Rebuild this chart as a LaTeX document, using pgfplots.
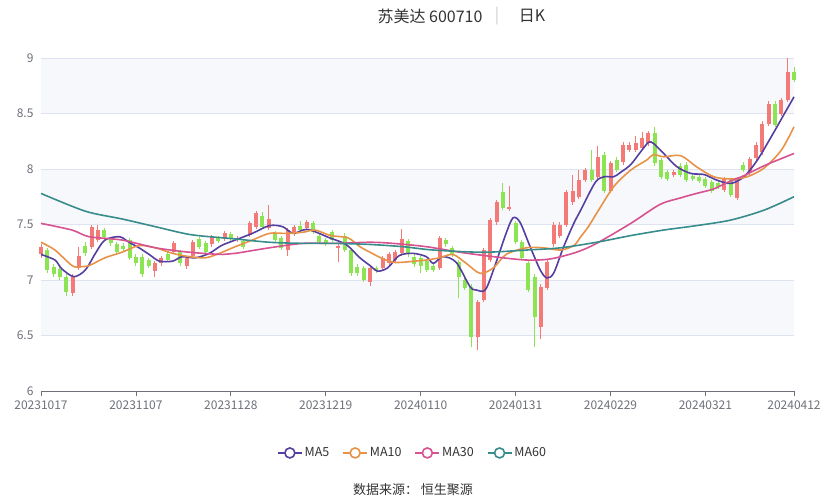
\documentclass[border=0pt]{standalone}
\usepackage{fontspec}
\setmainfont{Noto Sans CJK SC}
\usepackage{pgfplots}
\pgfplotsset{compat=1.18}
\usepackage{pgfplotstable}
\usetikzlibrary{calc}

\definecolor{cred}{RGB}{243,122,118}
\definecolor{cgreen}{RGB}{140,228,82}
\definecolor{ma5}{RGB}{84,62,160}
\definecolor{ma10}{RGB}{232,146,72}
\definecolor{ma30}{RGB}{214,82,145}
\definecolor{ma60}{RGB}{56,140,140}
\definecolor{axisgray}{RGB}{110,112,121}
\definecolor{gridc}{RGB}{224,230,241}
\definecolor{bandc}{RGB}{210,219,238}
\definecolor{titlec}{RGB}{51,51,51}

% up (red) candles: index open high low close
\pgfplotstableread{
i o h l c
0 7.23 7.32 7.20 7.30
5 6.88 7.05 6.86 7.03
6 7.11 7.30 7.09 7.22
8 7.30 7.50 7.28 7.48
9 7.36 7.50 7.34 7.45
18 7.08 7.17 7.03 7.15
19 7.15 7.22 7.13 7.20
21 7.25 7.35 7.23 7.33
23 7.13 7.22 7.10 7.20
24 7.22 7.36 7.20 7.34
27 7.32 7.41 7.30 7.39
29 7.37 7.44 7.35 7.42
31 7.36 7.40 7.34 7.38
33 7.41 7.53 7.39 7.51
34 7.48 7.62 7.46 7.60
36 7.47 7.68 7.45 7.55
39 7.27 7.47 7.22 7.45
40 7.42 7.50 7.40 7.48
42 7.47 7.54 7.45 7.52
47 7.29 7.33 7.16 7.31
52 6.98 7.13 6.95 7.11
54 7.11 7.22 7.09 7.20
55 7.15 7.25 7.13 7.23
56 7.18 7.27 7.16 7.25
57 7.24 7.46 7.22 7.37
63 7.11 7.40 7.09 7.38
69 6.49 6.82 6.37 6.80
70 6.82 7.29 6.80 7.27
71 7.18 7.56 7.16 7.54
72 7.52 7.72 7.50 7.70
74 7.64 7.85 7.62 7.66
79 6.58 6.96 6.47 6.94
80 6.93 7.18 6.91 7.16
81 7.32 7.52 7.30 7.50
82 7.40 7.52 7.38 7.50
83 7.50 7.81 7.48 7.79
84 7.70 7.95 7.68 7.80
85 7.75 7.99 7.73 7.90
86 7.90 8.01 7.88 7.99
88 7.93 8.21 7.91 8.11
90 7.80 8.07 7.78 8.05
92 8.06 8.24 8.04 8.22
93 8.17 8.24 8.15 8.22
94 8.17 8.30 8.15 8.23
95 8.19 8.33 8.17 8.28
96 8.23 8.34 8.21 8.32
100 7.95 7.99 7.93 7.97
108 7.81 7.93 7.79 7.91
110 7.74 7.93 7.72 7.91
112 7.96 8.11 7.94 8.09
113 8.10 8.24 8.08 8.22
114 8.15 8.43 8.13 8.41
115 8.41 8.61 8.39 8.59
117 8.50 8.64 8.48 8.62
118 8.62 9.00 8.60 8.87
}\uptab

% down (green) candles
\pgfplotstableread{
i o h l c
1 7.27 7.29 7.06 7.09
2 7.12 7.14 7.03 7.05
3 7.10 7.12 7.00 7.03
4 7.03 7.05 6.86 6.89
7 7.31 7.34 7.22 7.24
10 7.45 7.47 7.37 7.39
11 7.37 7.39 7.31 7.33
12 7.32 7.34 7.23 7.25
13 7.31 7.33 7.26 7.28
14 7.36 7.38 7.18 7.20
15 7.21 7.23 7.13 7.15
16 7.21 7.23 7.03 7.05
17 7.18 7.20 7.11 7.13
20 7.23 7.25 7.16 7.18
22 7.25 7.27 7.13 7.15
25 7.37 7.39 7.28 7.30
26 7.33 7.35 7.23 7.25
28 7.38 7.40 7.33 7.35
30 7.41 7.43 7.35 7.37
32 7.35 7.37 7.28 7.30
35 7.58 7.61 7.46 7.48
37 7.42 7.44 7.34 7.36
38 7.38 7.40 7.27 7.29
41 7.49 7.53 7.43 7.45
43 7.51 7.53 7.41 7.43
44 7.40 7.42 7.32 7.34
45 7.36 7.38 7.31 7.33
46 7.43 7.45 7.34 7.36
48 7.40 7.42 7.25 7.27
49 7.27 7.29 7.04 7.06
50 7.12 7.14 7.04 7.06
51 7.11 7.13 6.98 7.00
53 7.11 7.13 7.06 7.08
58 7.35 7.37 7.21 7.23
59 7.21 7.23 7.12 7.14
60 7.20 7.22 7.06 7.13
61 7.17 7.19 7.07 7.09
62 7.13 7.15 7.07 7.09
64 7.36 7.38 7.30 7.32
65 7.29 7.31 7.21 7.23
66 7.16 7.18 6.84 7.03
67 7.00 7.02 6.91 6.93
68 6.94 6.96 6.40 6.49
73 7.79 7.87 7.63 7.65
75 7.51 7.53 7.32 7.34
76 7.34 7.36 7.18 7.20
77 7.15 7.17 6.89 6.91
78 7.03 7.05 6.40 6.67
87 7.99 8.17 7.88 7.90
89 8.13 8.15 7.78 7.80
91 8.08 8.11 7.97 7.99
97 8.32 8.38 8.03 8.05
98 8.08 8.10 7.91 7.93
99 7.97 7.99 7.89 7.91
101 8.03 8.05 7.93 7.95
102 8.04 8.06 7.88 7.90
103 7.94 7.96 7.89 7.91
104 7.93 7.95 7.87 7.89
105 7.91 7.93 7.83 7.85
106 7.88 7.90 7.78 7.80
107 7.87 7.89 7.82 7.84
109 7.90 7.92 7.75 7.77
111 8.04 8.06 7.97 7.99
116 8.59 8.61 8.38 8.40
119 8.87 8.92 8.78 8.80
}\downtab

\begin{document}
\begin{tikzpicture}
\begin{axis}[
  name=ax,
  scale only axis,
  width=753bp, height=333bp,
  xmin=0, xmax=119, ymin=6, ymax=9,
  clip=false,
  axis lines*=left,
  x axis line style={draw=axisgray, line width=0.8bp, -},
  y axis line style={draw=none},
  xtick={0,15,30,45,60,75,90,105,119},
  xticklabels={20231017,20231107,20231128,20231219,20240110,20240131,20240229,20240321,20240412},
  ytick={6,6.5,7,7.5,8,8.5,9},
  tick align=outside,
  major tick length=5bp,
  xtick style={draw=axisgray, line width=0.8bp},
  ytick style={draw=none},
  ymajorgrids,
  grid style={draw=gridc, line width=0.8bp},
  tick label style={font=\fontsize{12bp}{14bp}\selectfont, text=axisgray},
  /pgf/number format/assume math mode=true,
  yticklabel style={xshift=1bp},
  xticklabel style={yshift=-1bp},
  legend style={at={(0.4934,-0.186)}, anchor=center, draw=none, fill=none,
    legend columns=4, font=\fontsize{12.5bp}{14bp}\selectfont, text=titlec,
    /tikz/every even column/.append style={column sep=11bp}},
  legend image code/.code={
    \draw[line width=1.6bp] (0bp,0bp) -- (24bp,0bp);
    \draw[line width=1.6bp, fill=white] (12bp,0bp) circle (5bp);
  },
]
% background bands (echarts split areas)
\fill[bandc, fill opacity=0.2] (axis cs:0,6.5) rectangle (axis cs:119,7);
\fill[bandc, fill opacity=0.2] (axis cs:0,7.5) rectangle (axis cs:119,8);
\fill[bandc, fill opacity=0.2] (axis cs:0,8.5) rectangle (axis cs:119,9);

% wicks
\addplot[forget plot, draw=none, mark=none,
  error bars/.cd, y dir=both, y explicit, error mark=none,
  error bar style={draw=cred, line width=1bp}]
  table[x=i, y expr={(\thisrow{h}+\thisrow{l})/2}, y error expr={(\thisrow{h}-\thisrow{l})/2}] {\uptab};
\addplot[forget plot, draw=none, mark=none,
  error bars/.cd, y dir=both, y explicit, error mark=none,
  error bar style={draw=cgreen, line width=1bp}]
  table[x=i, y expr={(\thisrow{h}+\thisrow{l})/2}, y error expr={(\thisrow{h}-\thisrow{l})/2}] {\downtab};
% bodies
\addplot[forget plot, draw=none, mark=none,
  error bars/.cd, y dir=both, y explicit, error mark=none,
  error bar style={draw=cred, line width=4bp}]
  table[x=i, y expr={(\thisrow{o}+\thisrow{c})/2}, y error expr={max(abs(\thisrow{c}-\thisrow{o})/2,0.006)}] {\uptab};
\addplot[forget plot, draw=none, mark=none,
  error bars/.cd, y dir=both, y explicit, error mark=none,
  error bar style={draw=cgreen, line width=4bp}]
  table[x=i, y expr={(\thisrow{o}+\thisrow{c})/2}, y error expr={max(abs(\thisrow{c}-\thisrow{o})/2,0.006)}] {\downtab};

% moving averages
\addplot[ma5, line width=1.6bp, smooth, tension=0.5, mark=none] coordinates {
(0,7.23)(2.2,7.18)(3.3,7.10)(5.2,7.03)(7.0,7.09)(8.6,7.24)(10.1,7.36)(12.4,7.39)(13.9,7.34)(15.5,7.29)(17.1,7.23)(18.7,7.17)(20.8,7.17)(22.3,7.21)(24.4,7.20)(26.6,7.24)(28.5,7.31)(30.7,7.36)(33.4,7.42)(36.1,7.49)(38.2,7.48)(39.8,7.42)(41.4,7.45)(42.6,7.45)(45.6,7.38)(48.2,7.32)(50.4,7.20)(52.0,7.13)(53.2,7.08)(54.8,7.11)(56.6,7.22)(58.8,7.24)(60.9,7.21)(62.0,7.15)(63.5,7.21)(65.6,7.16)(67.8,6.94)(68.8,6.91)(70.2,6.91)(71.5,7.09)(73.5,7.42)(74.6,7.56)(75.7,7.52)(77.3,7.30)(78.9,7.09)(79.9,7.02)(81.0,7.06)(82.6,7.30)(84.2,7.51)(85.3,7.63)(87.6,7.88)(89.0,7.93)(90.5,7.93)(91.6,7.97)(93.2,8.04)(94.7,8.15)(96.0,8.24)(96.8,8.23)(98.4,8.14)(100.5,8.02)(102.7,7.96)(104.8,7.95)(106.8,7.90)(109.0,7.87)(111.1,7.93)(113.2,8.08)(115.4,8.29)(117.5,8.50)(119,8.65)
};
\addlegendentry{MA5}
\addplot[ma10, line width=1.6bp, smooth, tension=0.5, mark=none] coordinates {
(0,7.34)(2.2,7.27)(4.9,7.13)(6.0,7.12)(7.6,7.13)(10.1,7.20)(12.8,7.25)(15.5,7.31)(18.1,7.29)(20.8,7.24)(23.5,7.21)(26.0,7.20)(28.2,7.24)(30.7,7.30)(33.4,7.36)(36.1,7.42)(38.7,7.42)(41.4,7.43)(43.3,7.45)(45.8,7.40)(48.5,7.38)(50.4,7.30)(52.0,7.25)(53.7,7.20)(55.6,7.16)(57.2,7.16)(59.1,7.17)(60.9,7.18)(63.0,7.20)(65.1,7.23)(67.2,7.15)(69.4,7.06)(71.5,7.11)(73.5,7.23)(76.7,7.29)(79.4,7.29)(82.1,7.27)(84.2,7.31)(85.3,7.39)(86.5,7.48)(87.8,7.60)(90.5,7.84)(93.2,7.99)(95.7,8.08)(96.8,8.13)(98.4,8.11)(101.1,8.12)(103.6,8.02)(106.3,7.93)(109.0,7.91)(111.6,7.93)(114.3,8.01)(117.0,8.17)(119,8.38)
};
\addlegendentry{MA10}
\addplot[ma30, line width=1.6bp, smooth, tension=0.5, mark=none] coordinates {
(0,7.51)(4.9,7.45)(7.6,7.39)(12.8,7.36)(18.1,7.29)(23.5,7.25)(28.7,7.23)(30.7,7.24)(36.1,7.29)(41.4,7.33)(46.6,7.33)(52.0,7.34)(55.6,7.33)(60.9,7.30)(66.2,7.25)(71.5,7.21)(76.7,7.18)(80.5,7.19)(84.6,7.25)(87.8,7.33)(93.2,7.51)(97.8,7.68)(101.1,7.74)(103.6,7.78)(106.3,7.82)(108.5,7.88)(111.1,7.94)(114.3,8.03)(119,8.14)
};
\addlegendentry{MA30}
\addplot[ma60, line width=1.6bp, smooth, tension=0.5, mark=none] coordinates {
(0,7.78)(7.0,7.62)(12.8,7.55)(18.1,7.48)(23.5,7.41)(28.7,7.38)(30.7,7.37)(36.1,7.34)(41.4,7.33)(46.6,7.33)(52.0,7.32)(57.2,7.30)(62.0,7.27)(69.9,7.25)(76.7,7.27)(82.1,7.29)(87.8,7.34)(93.2,7.40)(98.4,7.45)(103.6,7.49)(109.0,7.54)(114.3,7.63)(119,7.75)
};
\addlegendentry{MA60}
\end{axis}
\pgfresetboundingbox
\path[use as bounding box] ($(ax.south west)+(-41bp,-109bp)$) rectangle ($(ax.south west)+(782bp,391bp)$);
% title
\node[text=titlec, font=\fontsize{16bp}{18bp}\selectfont] at ($(ax.south west)+(389bp,375bp)$) {苏美达 600710};
\node[text=black!20, font=\fontsize{16bp}{18bp}\selectfont] at ($(ax.south west)+(456bp,375bp)$) {|};
\node[text=titlec, font=\fontsize{16bp}{18bp}\selectfont] at ($(ax.south west)+(491bp,375bp)$) {日K};
% source
\node[text=titlec, font=\fontsize{13bp}{15bp}\selectfont] at ($(ax.south west)+(372bp,-99bp)$) {数据来源： 恒生聚源};
\end{tikzpicture}
\end{document}
